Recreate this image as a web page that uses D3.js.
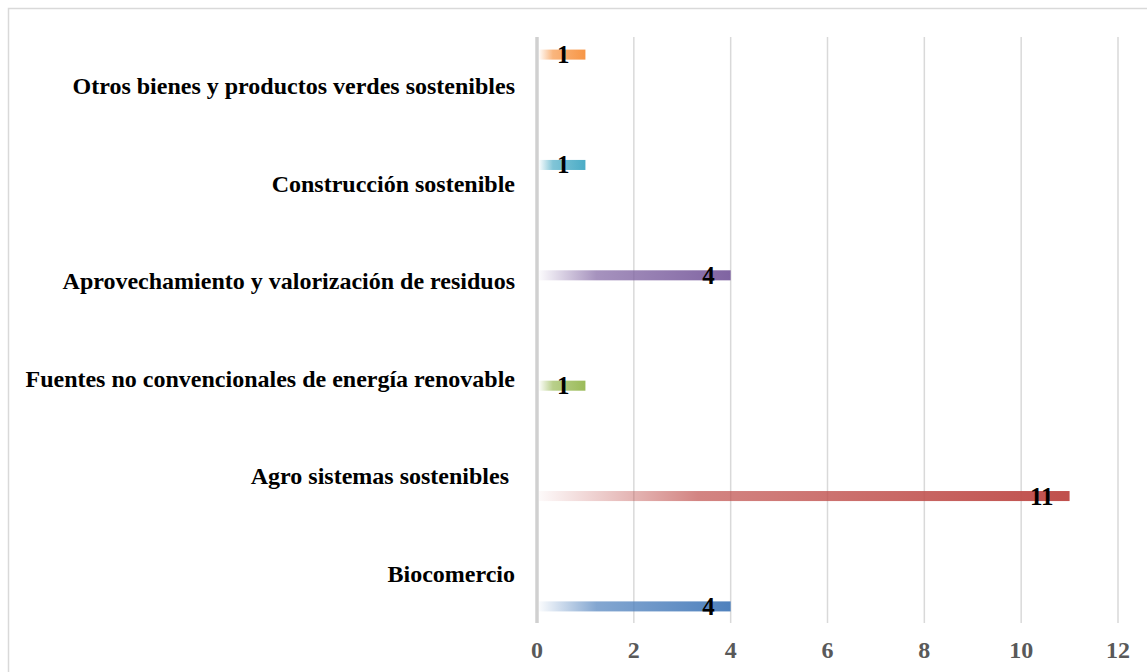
<!DOCTYPE html>
<html>
<head>
<meta charset="utf-8">
<script src="https://cdn.jsdelivr.net/npm/d3@7"></script>
<style>
  body { margin: 0; background: #fff; }
  text { font-family: "Liberation Serif", "Times New Roman", serif; font-weight: bold; }
</style>
</head>
<body>
<div id="chart"></div>
<script>
// Categories, top to bottom as drawn
var categories = [
    "Otros bienes y productos verdes sostenibles",
    "Construcción sostenible",
    "Aprovechamiento y valorización de residuos",
    "Fuentes no convencionales de energía renovable",
    "Agro sistemas sostenibles ",
    "Biocomercio"
];
var values = [1, 1, 4, 1, 11, 4];
var colors = ["#F79646", "#4BACC6", "#8064A2", "#9BBB59", "#C0504D", "#4F81BD"];
var xTicks = [0, 2, 4, 6, 8, 10, 12];

var width = 1147, height = 672;
var margin = { top: 38, right: 29, bottom: 49, left: 537 };

var svg = d3.select("#chart").append("svg")
    .attr("width", width)
    .attr("height", height);

// Frame around the chart
svg.append("rect")
    .attr("x", 8.5).attr("y", 8.5)
    .attr("width", width).attr("height", height)
    .attr("fill", "none")
    .attr("stroke", "#d9d9d9")
    .attr("stroke-width", 1.5);

var x = d3.scaleLinear()
    .domain([0, 12])
    .range([margin.left, width - margin.right]);

var y = d3.scaleBand()
    .domain(categories)
    .range([margin.top, height - margin.bottom]);

// each category holds its own series slot inside the cluster
var ySub = d3.scaleBand()
    .domain(categories)
    .range([0, y.bandwidth()])
    .paddingInner(0.22)
    .paddingOuter(0.9);

// Gridlines
svg.append("g")
    .selectAll("line")
    .data(xTicks)
    .enter().append("line")
    .attr("x1", d => x(d)).attr("x2", d => x(d))
    .attr("y1", margin.top - 1)
    .attr("y2", height - margin.bottom)
    .attr("stroke", d => d === 0 ? "#d0d0d0" : "#d9d9d9")
    .attr("stroke-width", d => d === 0 ? 3.5 : 1.5);

// Gradients
var defs = svg.append("defs");
categories.forEach(function(c, i) {
    var g = defs.append("linearGradient")
        .attr("id", "grad" + i)
        .attr("x1", "0").attr("x2", "1").attr("y1", "0").attr("y2", "0");
    g.append("stop").attr("offset", "0").attr("stop-color", colors[i]).attr("stop-opacity", 0.03);
    g.append("stop").attr("offset", "0.3").attr("stop-color", colors[i]).attr("stop-opacity", 0.7);
    g.append("stop").attr("offset", "1").attr("stop-color", colors[i]).attr("stop-opacity", 1);
});

// Bars
svg.selectAll(".bar")
    .data(categories)
    .enter().append("rect")
    .attr("class", "bar")
    .attr("x", x(0) + 2)
    .attr("y", d => y(d) + ySub(d))
    .attr("width", (d, i) => x(values[i]) - x(0) - 2)
    .attr("height", ySub.bandwidth())
    .attr("fill", (d, i) => "url(#grad" + i + ")");

// Data labels
svg.selectAll(".val")
    .data(categories)
    .enter().append("text")
    .attr("class", "val")
    .attr("x", (d, i) => x(values[i]) - 16)
    .attr("y", d => y(d) + ySub(d) + ySub.bandwidth() / 2 + 8.5)
    .attr("text-anchor", "end")
    .attr("font-size", 25)
    .attr("fill", "#000")
    .text((d, i) => values[i]);

// Category labels
svg.selectAll(".cat")
    .data(categories)
    .enter().append("text")
    .attr("class", "cat")
    .attr("x", 515)
    .attr("y", d => y(d) + y.bandwidth() / 2)
    .attr("dy", "0.32em")
    .attr("text-anchor", "end")
    .attr("font-size", 24)
    .attr("fill", "#000")
    .style("white-space", "pre")
    .text(d => d);

// X tick labels
svg.selectAll(".tick-label")
    .data(xTicks)
    .enter().append("text")
    .attr("class", "tick-label")
    .attr("x", d => x(d))
    .attr("y", 658)
    .attr("text-anchor", "middle")
    .attr("font-size", 24)
    .attr("fill", "#595959")
    .text(d => d);
</script>
</body>
</html>
